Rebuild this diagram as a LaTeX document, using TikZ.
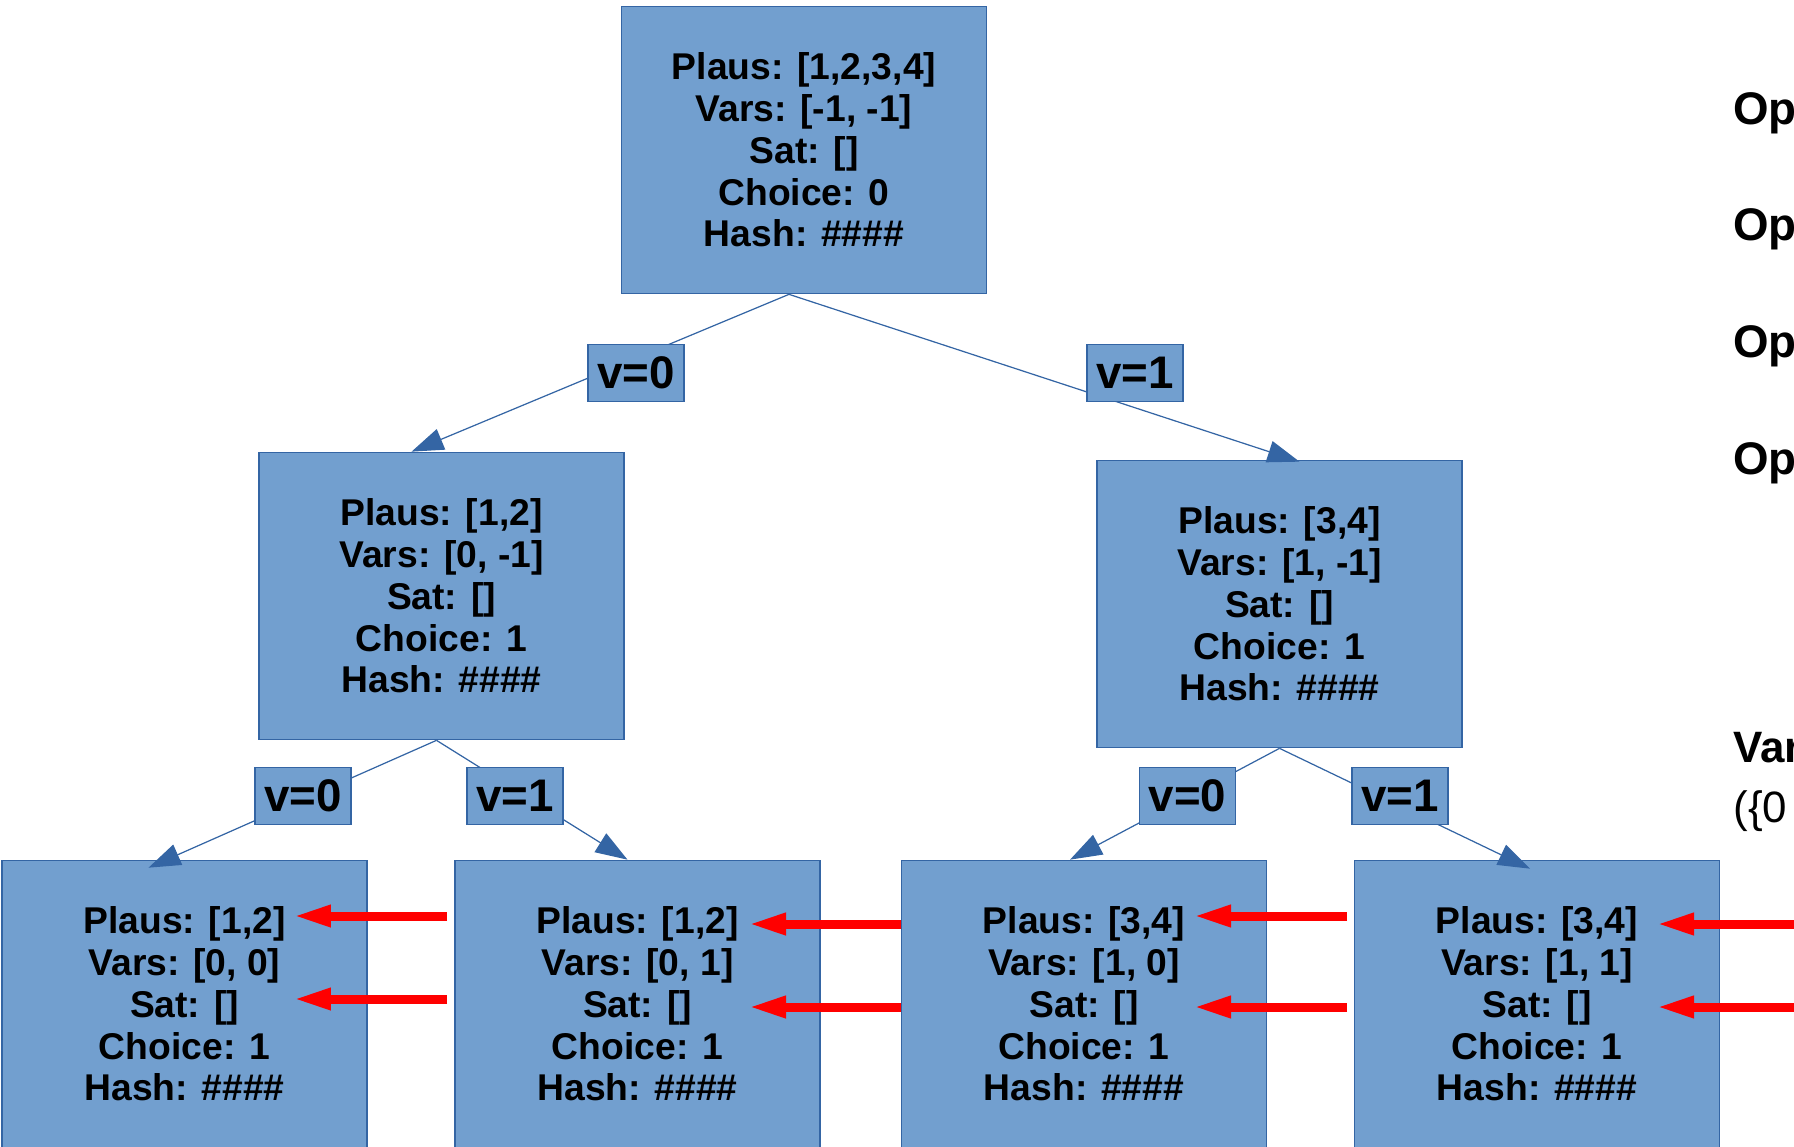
\documentclass[tikz,border=0pt]{standalone}
\usepackage{fontspec}
\setmainfont{Liberation Sans}
\usepackage{xcolor}
\usetikzlibrary{arrows.meta,calc,positioning}
\definecolor{boxfill}{HTML}{729FCF}
\definecolor{boxline}{HTML}{3465A4}

\begin{document}
\begin{tikzpicture}[
  x=0.02cm, y=0.02cm,
  sbox/.style={rectangle, draw=boxline, fill=boxfill, line width=0.7pt, minimum width=7.3cm, minimum height=5.75cm, align=center, font=\fontsize{21.2}{23.8}\selectfont\bfseries},
  branch/.style={rectangle, draw=boxline, fill=boxfill, line width=0.7pt, minimum width=1.92cm, minimum height=1.14cm, inner sep=0pt, font=\fontsize{26}{30}\selectfont\bfseries},
  arrow/.style={-{Triangle[length=0.64cm, width=0.44cm]}, boxline, line width=0.7pt},
  pointer/.style={-{Triangle[length=0.76cm, width=0.4cm]}, red, line width=0.18cm},
  note/.style={anchor=base west, inner sep=0pt, font=\fontsize{26}{30}\selectfont\bfseries}
]
\useasboundingbox (0,0) rectangle (1794,-1146);

% Search tree: root
\node[sbox] (root) at (804,-150) {Plaus: [1,2,3,4]\\Vars: [-1, -1]\\Sat: []\\Choice: 0\\Hash: \#\#\#\#};

% First split
\node[sbox] (n0) at (441.5,-596) {Plaus: [1,2]\\Vars: [0, -1]\\Sat: []\\Choice: 1\\Hash: \#\#\#\#};
\node[sbox] (n1) at (1279.5,-604) {Plaus: [3,4]\\Vars: [1, -1]\\Sat: []\\Choice: 1\\Hash: \#\#\#\#};

% Leaves
\node[sbox] (n00) at (184.5,-1004) {Plaus: [1,2]\\Vars: [0, 0]\\Sat: []\\Choice: 1\\Hash: \#\#\#\#};
\node[sbox] (n01) at (637.5,-1004) {Plaus: [1,2]\\Vars: [0, 1]\\Sat: []\\Choice: 1\\Hash: \#\#\#\#};
\node[sbox] (n10) at (1084,-1004) {Plaus: [3,4]\\Vars: [1, 0]\\Sat: []\\Choice: 1\\Hash: \#\#\#\#};
\node[sbox] (n11) at (1537,-1004) {Plaus: [3,4]\\Vars: [1, 1]\\Sat: []\\Choice: 1\\Hash: \#\#\#\#};

% Arrows - tree edges
\draw[arrow] ($(root.south)+(-15,0)$) -- ($(n0.north)+(-30,0)$);
\draw[arrow] ($(root.south)+(-15,0)$) -- ($(n1.north)+(20,-2)$);
\draw[arrow] ($(n0.south)+(-5,0)$) -- ($(n00.north)+(-36,-8)$);
\draw[arrow] ($(n0.south)+(-5,0)$) -- ($(n01.north)+(-10,0)$);
\draw[arrow] (n1.south) -- ($(n10.north)+(-14,0)$);
\draw[arrow] (n1.south) -- ($(n11.north)+(-7,-9)$);

% Branch labels on top of the edges
\node[branch] (l0) at (636,-373) {v=0};
\node[branch] (l1) at (1135,-373) {v=1};
\node[branch] (l00) at (303,-796) {v=0};
\node[branch] (l01) at (515,-796) {v=1};
\node[branch] (l10) at (1187.5,-796) {v=0};
\node[branch] (l11) at (1400,-796) {v=1};

% Red pointers at the leaves
\coordinate (p00a) at (447,-916);  \coordinate (q00a) at (293,-916);
\coordinate (p00b) at (447,-999);  \coordinate (q00b) at (293,-999);
\coordinate (p01a) at (901,-924);  \coordinate (q01a) at (748,-924);
\coordinate (p01b) at (901,-1007); \coordinate (q01b) at (748,-1007);
\coordinate (p10a) at (1347,-916); \coordinate (q10a) at (1193,-916);
\coordinate (p10b) at (1347,-1007);\coordinate (q10b) at (1193,-1007);
\coordinate (p11a) at (1810,-924); \coordinate (q11a) at (1656,-924);
\coordinate (p11b) at (1810,-1007);\coordinate (q11b) at (1656,-1007);
\draw[pointer] (p00a) -- (q00a);
\draw[pointer] (p00b) -- (q00b);
\draw[pointer] (p01a) -- (q01a);
\draw[pointer] (p01b) -- (q01b);
\draw[pointer] (p10a) -- (q10a);
\draw[pointer] (p10b) -- (q10b);
\draw[pointer] (p11a) -- (q11a);
\draw[pointer] (p11b) -- (q11b);

% Side notes
\node[note] (op1) at (1733,-124) {Op};
\node[note] (op2) at (1733,-240) {Op};
\node[note] (op3) at (1733,-357) {Op};
\node[note] (op4) at (1733,-474) {Op};
\node[note, font=\fontsize{25}{30}\selectfont\bfseries] (var) at (1733,-762) {Var};
\node[note, font=\fontsize{25}{30}\selectfont] (dom) at (1733,-822) {(\{0};

\end{tikzpicture}
\end{document}
